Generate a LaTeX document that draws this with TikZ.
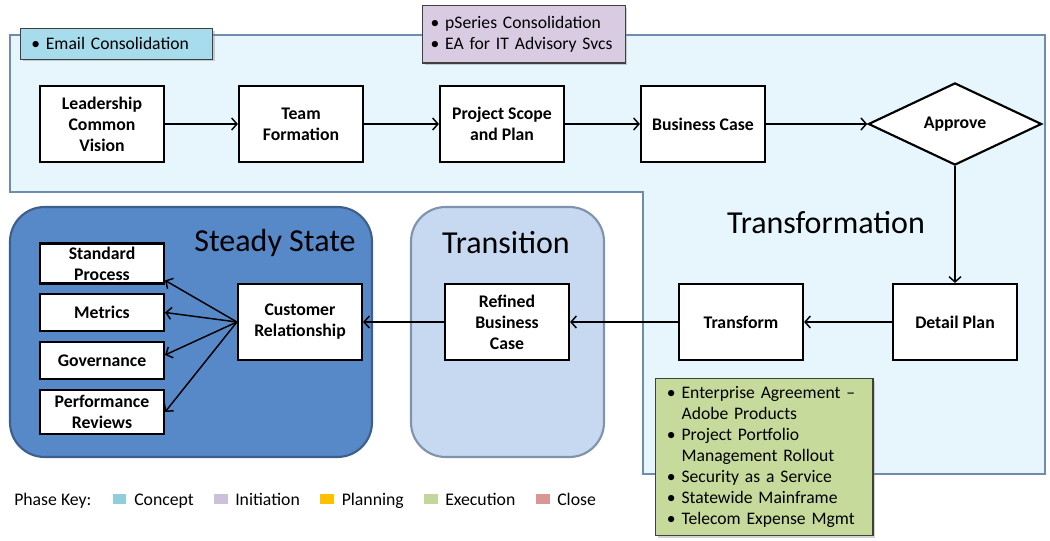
\documentclass[tikz,border=0pt]{standalone}
\usepackage{fontspec}
\setmainfont{Carlito}
\usetikzlibrary{arrows.meta,shapes.geometric,shadows}
\definecolor{transfill}{HTML}{E6F6FC}
\definecolor{transline}{HTML}{6F8CAE}
\definecolor{steadyfill}{HTML}{5788C8}
\definecolor{steadyline}{HTML}{3D5F8E}
\definecolor{tranfill}{HTML}{C6D9F1}
\definecolor{tranline}{HTML}{7F93AE}
\definecolor{concept}{HTML}{92CDDC}
\definecolor{initiation}{HTML}{CCC0DA}
\definecolor{planning}{HTML}{FFC000}
\definecolor{execution}{HTML}{C3D69B}
\definecolor{close}{HTML}{DA9694}
\definecolor{conceptbox}{HTML}{A6DCEB}
\definecolor{initbox}{HTML}{D9CBE2}
\definecolor{execbox}{HTML}{C6DA9C}
\begin{document}
\begin{tikzpicture}[x=0.75pt,y=-0.75pt,
		stepbox/.style={draw,line width=1.6pt,fill=white,minimum width=93pt,minimum height=57pt,
			align=center,inner sep=1pt,font=\bfseries\fontsize{13.3}{15.75}\selectfont},
		smallbox/.style={stepbox,minimum height=28pt},
		phasebox/.style={draw=black!75,line width=0.9pt,align=left,inner ysep=4pt,anchor=north west,
			font=\fontsize{13.2}{15.75}\selectfont,drop shadow={opacity=0.35,shadow xshift=1.5pt,shadow yshift=-1.5pt}},
		flow/.style={-{Straight Barb[length=4pt,width=9pt]},line width=1.1pt},
		title/.style={font=\fontsize{24}{28}\selectfont},
		keysq/.style={fill=#1,minimum width=10pt,minimum height=8pt,inner sep=0pt},
		keytxt/.style={anchor=base west,inner sep=0pt,font=\fontsize{13.3}{15}\selectfont}]
	\useasboundingbox (0,0) rectangle (1050,541);
	% phase areas
	\draw[fill=transfill,draw=transline,line width=1.6pt] (10,35) -- (1045,35) -- (1045,474) -- (643,474) -- (643,192) -- (10,192) -- cycle;
	\draw[fill=steadyfill,draw=steadyline,line width=1.6pt,rounded corners=26pt] (10,207) rectangle (372,457);
	\draw[fill=tranfill,draw=tranline,line width=1.6pt,rounded corners=26pt] (411,207) rectangle (604,457);
	\node[title] (tsteady) at (275,243) {Steady State};
	\node[title] (ttran) at (506,243) {Transition};
	\node[title] (ttransf) at (826,223) {Transformation};
	% project boxes
	\node[phasebox,fill=conceptbox,inner xsep=8pt,text width=128pt,minimum height=23pt] (email) at (20,28) {\textbullet\ Email Consolidation};
	\node[phasebox,fill=initbox,inner xsep=6pt,text width=140pt,minimum height=43pt] (pseries) at (422,5) {\textbullet\ pSeries Consolidation\\\textbullet\ EA for IT Advisory Svcs};
	\node[phasebox,fill=execbox,inner xsep=8.5pt,text width=146pt,minimum height=117pt,inner ysep=6pt] (exec) at (655,378)
		{\textbullet\ Enterprise Agreement --\\\hphantom{\textbullet\ }Adobe Products\\\textbullet\ Project Portfolio\\\hphantom{\textbullet\ }Management Rollout\\\textbullet\ Security as a Service\\\textbullet\ Statewide Mainframe\\\textbullet\ Telecom Expense Mgmt};
	% steps
	\node[stepbox] (lead) at (102,124) {Leadership\\Common\\Vision};
	\node[stepbox] (team) at (301,124) {Team\\Formation};
	\node[stepbox] (scope) at (502,124) {Project Scope\\and Plan};
	\node[stepbox] (bcase) at (703,124) {Business Case};
	\node[stepbox,diamond,minimum width=130pt,minimum height=57pt] (approve) at (955,124) {Approve};
	\node[stepbox] (dplan) at (955,322) {Detail Plan};
	\node[stepbox] (transf) at (741,322) {Transform};
	\node[stepbox] (rbcase) at (507,322) {Refined\\Business\\Case};
	\node[stepbox] (cust) at (300,322) {Customer\\Relationship};
	\node[smallbox,minimum height=30pt] (stdproc) at (102,263.5) {Standard\\Process};
	\node[smallbox] (metrics) at (102,312.5) {Metrics};
	\node[smallbox] (gov) at (102,360.5) {Governance};
	\node[smallbox,minimum height=33pt] (perf) at (102,412) {Performance\\Reviews};
	% connectors
	\draw[flow] (lead) -- (team);
	\draw[flow] (team) -- (scope);
	\draw[flow] (scope) -- (bcase);
	\draw[flow] (bcase) -- (approve);
	\draw[flow] (approve) -- (dplan);
	\draw[flow] (dplan) -- (transf);
	\draw[flow] (transf) -- (rbcase);
	\draw[flow] (rbcase) -- (cust);
	\draw[flow] (cust.west) -- (stdproc.-15);
	\draw[flow] (cust.west) -- (metrics.east);
	\draw[flow] (cust.west) -- (gov.5);
	\draw[flow] (cust.west) -- (perf.east);
	% phase key
	\node[keytxt] (key) at (14,505) {Phase Key:};
	\node[keysq=concept] (kc) at (119.5,499) {};
	\node[keytxt] (kct) at (134,505) {Concept};
	\node[keysq=initiation] (ki) at (221,499) {};
	\node[keytxt] (kit) at (235,505) {Initiation};
	\node[keysq=planning] (kp) at (327,499) {};
	\node[keytxt] (kpt) at (341.5,505) {Planning};
	\node[keysq=execution] (ke) at (431,499) {};
	\node[keytxt] (ket) at (445,505) {Execution};
	\node[keysq=close] (kcl) at (543,499) {};
	\node[keytxt] (kclt) at (557,505) {Close};
\end{tikzpicture}
\end{document}
